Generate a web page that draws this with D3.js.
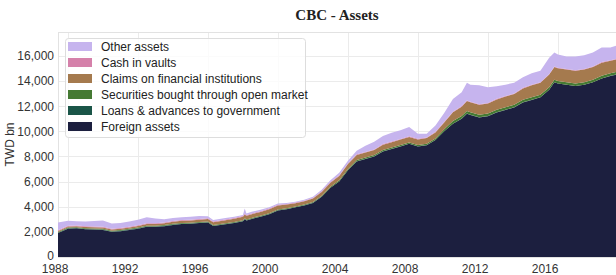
<!DOCTYPE html>
<html>
<head>
<meta charset="utf-8">
<script src="https://cdn.jsdelivr.net/npm/d3@7"></script>
<style>
  body { margin: 0; background: #fff; }
  text { font-family: 'Liberation Sans', Arial, sans-serif; }
</style>
</head>
<body>
<div id="chart"></div>
<script>
// values (TWD bn), decimal years
const dates = [1987.43, 1988.0, 1988.5, 1989.0, 1989.5, 1990.0, 1990.5, 1991.0, 1991.5, 1992.0,
  1992.5, 1993.0, 1993.5, 1994.0, 1994.5, 1995.0, 1995.5, 1996.0, 1996.3, 1997.0,
  1997.5, 1998.0, 1998.1, 1998.2, 1998.5, 1999.0, 1999.5, 2000.0, 2000.5, 2001.0,
  2001.5, 2002.0, 2002.5, 2003.0, 2003.5, 2004.0, 2004.5, 2005.0, 2005.5, 2006.0,
  2006.5, 2007.0, 2007.5, 2008.0, 2008.5, 2009.0, 2009.5, 2010.0, 2010.5, 2010.8,
  2011.0, 2011.5, 2012.0, 2012.5, 2013.0, 2013.5, 2014.0, 2014.5, 2015.0, 2015.5,
  2015.8, 2016.0, 2016.5, 2017.0, 2017.5, 2018.0, 2018.5, 2019.0, 2019.32]

const foreignAssets = [1900, 2250, 2280, 2200, 2180, 2150, 2000, 2050, 2150, 2250,
  2400, 2400, 2450, 2550, 2630, 2650, 2700, 2750, 2470, 2600,
  2700, 2850, 3000, 2900, 3030, 3200, 3400, 3700, 3800, 3950,
  4100, 4300, 4800, 5500, 6000, 6900, 7600, 7800, 8000, 8400,
  8600, 8800, 9000, 8800, 8900, 9300, 10000, 10600, 11000, 11400,
  11300, 11100, 11200, 11500, 11700, 11900, 12300, 12500, 12700, 13300,
  13900, 13800, 13700, 13600, 13700, 13900, 14200, 14400, 14500]

const loansToGovernment = [30, 30, 30, 30, 30, 30, 30, 30, 30, 30,
  30, 30, 30, 30, 20, 20, 20, 20, 20, 20,
  20, 20, 20, 20, 20, 20, 20, 20, 10, 10,
  10, 10, 10, 10, 10, 10, 10, 10, 10, 10,
  10, 10, 10, 10, 10, 10, 10, 10, 10, 10,
  10, 10, 10, 10, 10, 10, 10, 10, 10, 10,
  10, 10, 10, 10, 10, 10, 10, 10, 10]

const securities = [60, 60, 60, 60, 60, 60, 60, 60, 60, 60,
  60, 60, 60, 60, 60, 60, 60, 60, 60, 60,
  60, 60, 60, 60, 60, 60, 60, 60, 60, 60,
  60, 60, 70, 80, 90, 100, 110, 100, 100, 100,
  100, 100, 100, 100, 100, 120, 150, 200, 200, 200,
  200, 200, 200, 200, 200, 200, 200, 200, 200, 200,
  200, 200, 200, 200, 200, 200, 200, 200, 200]

const claims = [80, 80, 80, 90, 90, 100, 100, 110, 110, 120,
  130, 140, 150, 160, 170, 180, 190, 200, 220, 240,
  260, 280, 300, 300, 300, 300, 310, 320, 300, 260,
  260, 280, 300, 320, 350, 380, 400, 400, 400, 420,
  420, 430, 440, 440, 450, 480, 550, 700, 750, 800,
  800, 800, 800, 820, 850, 850, 900, 950, 950, 1000,
  1000, 1000, 1000, 1000, 1000, 1000, 1050, 1000, 1000]

const cashInVaults = [60, 60, 60, 60, 60, 60, 60, 60, 60, 60,
  60, 60, 60, 60, 60, 60, 60, 60, 60, 60,
  60, 60, 60, 60, 60, 60, 60, 60, 50, 50,
  50, 50, 50, 50, 50, 50, 50, 50, 50, 50,
  50, 50, 50, 50, 50, 50, 50, 50, 50, 50,
  50, 50, 50, 50, 50, 50, 50, 50, 50, 50,
  50, 50, 50, 50, 50, 50, 50, 50, 50]

const otherAssets = [620, 400, 330, 380, 450, 500, 420, 400, 410, 450,
  480, 380, 250, 240, 220, 230, 230, 160, 120, 120,
  100, 80, 410, 120, 130, 110, 100, 90, 80, 70,
  70, 100, 120, 140, 200, 210, 280, 500, 600, 650,
  700, 700, 750, 400, 300, 500, 700, 1000, 1100, 1400,
  1350, 1500, 1250, 1000, 900, 850, 850, 900, 900, 1300,
  1100, 1050, 1000, 1100, 1100, 1100, 1150, 1000, 1050]

// stack order, bottom first
const seriesNames = ['Foreign assets', 'Loans & advances to government', 'Securities bought through open market',
  'Claims on financial institutions', 'Cash in vaults', 'Other assets']
const seriesValues = [foreignAssets, loansToGovernment, securities, claims, cashInVaults, otherAssets]
const colors = ['#1c1f3f', '#1a5548', '#457a33', '#a57a4e', '#d581aa', '#c6b4ee']

const xTicks = [1988, 1992, 1996, 2000, 2004, 2008, 2012, 2016]
const yTicks = [0, 2000, 4000, 6000, 8000, 10000, 12000, 14000, 16000]

// sizes
const width = 616
const height = 275
const plot = { left: 58, right: 616, top: 32, bottom: 257 }

const svg = d3.select('#chart')
  .append('svg')
  .attr('width', width)
  .attr('height', height)

const x = d3.scaleLinear()
  .domain([1987.43, 2019.32])
  .range([plot.left, plot.right])

const y = d3.scaleLinear()
  .domain([0, 17900])
  .range([plot.bottom, plot.top])

// table for d3.stack
const table = dates.map((d, i) => {
  const row = { date: d }
  seriesNames.forEach((name, j) => { row[name] = seriesValues[j][i] })
  return row
})
const stacked = d3.stack().keys(seriesNames)(table)

// grid
const grid = svg.append('g')
grid.selectAll('line.h')
  .data(yTicks)
  .enter()
  .append('line')
  .attr('x1', plot.left)
  .attr('x2', plot.right)
  .attr('y1', d => Math.round(y(d)) + 0.5)
  .attr('y2', d => Math.round(y(d)) + 0.5)
  .style('stroke', '#ebebeb')
grid.selectAll('line.v')
  .data(xTicks)
  .enter()
  .append('line')
  .attr('x1', d => Math.round(x(d)) + 0.5)
  .attr('x2', d => Math.round(x(d)) + 0.5)
  .attr('y1', plot.top)
  .attr('y2', plot.bottom)
  .style('stroke', '#ebebeb')

svg.append('rect')
  .attr('x', plot.left + 0.5)
  .attr('y', plot.top + 0.5)
  .attr('width', plot.right - plot.left)
  .attr('height', plot.bottom - plot.top)
  .style('fill', 'none')
  .style('stroke', '#e2e2e2')

// areas
const area = d3.area()
  .x(d => x(d.data.date))
  .y0(d => y(d[0]))
  .y1(d => y(d[1]))

svg.append('g')
  .selectAll('path')
  .data(stacked)
  .enter()
  .append('path')
  .attr('d', area)
  .style('fill', (d, i) => colors[i])

// axes
const xAxis = svg.append('g')
  .attr('transform', `translate(0,${plot.bottom})`)
  .call(d3.axisBottom(x).tickValues(xTicks).tickFormat(d3.format('d')).tickSize(0).tickPadding(7))
xAxis.select('.domain').remove()
xAxis.selectAll('text')
  .attr('text-anchor', 'end')
  .style('font-size', '12px')
  .style('fill', '#333')

const yAxis = svg.append('g')
  .attr('transform', `translate(${plot.left},0)`)
  .call(d3.axisLeft(y).tickValues(yTicks).tickFormat(d3.format(',')).tickSize(0).tickPadding(4))
yAxis.select('.domain').remove()
yAxis.selectAll('text')
  .style('font-size', '12px')
  .style('fill', '#333')
// the zero label sits a touch higher so it clears the first year label
yAxis.selectAll('.tick')
  .filter(d => d === 0)
  .select('text')
  .attr('dy', '0.2em')

svg.append('text')
  .attr('transform', `translate(14,${(plot.top + plot.bottom) / 2}) rotate(-90)`)
  .attr('text-anchor', 'middle')
  .style('font-size', '12px')
  .style('fill', '#333')
  .text('TWD bn')

// title
svg.append('text')
  .attr('x', (plot.left + plot.right) / 2)
  .attr('y', 20)
  .attr('text-anchor', 'middle')
  .style('font-family', "'Liberation Serif', serif")
  .style('font-weight', 'bold')
  .style('font-size', '15px')
  .style('fill', '#222')
  .text('CBC - Assets')

// legend, top entry is the top of the stack
const legend = svg.append('g')
legend.append('rect')
  .attr('x', 65.5)
  .attr('y', 38.5)
  .attr('width', 240)
  .attr('height', 99)
  .attr('rx', 3)
  .style('fill', 'rgba(255,255,255,0.8)')
  .style('stroke', '#dddddd')

const items = legend.selectAll('g.item')
  .data(seriesNames.map((name, i) => ({ name, color: colors[i] })).reverse())
  .enter()
  .append('g')
  .attr('transform', (d, i) => `translate(68,${42 + i * 16})`)
items.append('rect')
  .attr('width', 24)
  .attr('height', 9)
  .style('fill', d => d.color)
items.append('text')
  .attr('x', 33)
  .attr('y', 9)
  .style('font-size', '12px')
  .style('fill', '#222')
  .text(d => d.name)
</script>
</body>
</html>
